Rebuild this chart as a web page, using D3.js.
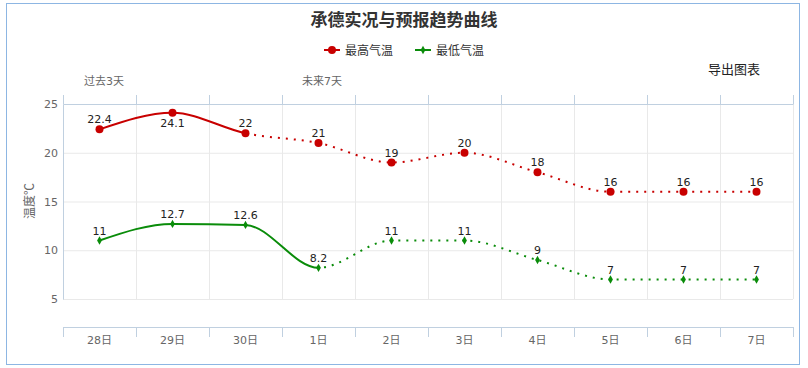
<!DOCTYPE html>
<html>
<head>
<meta charset="utf-8">
<script src="https://cdn.jsdelivr.net/npm/d3@7"></script>
<style>
  body { margin: 0; background: #fff; }
  svg text { font-family: "DejaVu Sans", "Noto Sans CJK SC", sans-serif; }
  .grid line { stroke: #e9e9e9; }
  .grid path { display: none; }
</style>
</head>
<body>
<div id="chart"></div>
<script>
var days = ["28日", "29日", "30日", "1日", "2日", "3日", "4日", "5日", "6日", "7日"];
var highTemps = [22.4, 24.1, 22, 21, 19, 20, 18, 16, 16, 16];
var lowTemps = [11, 12.7, 12.6, 8.2, 11, 11, 9, 7, 7, 7];
var yTicks = [5, 10, 15, 20, 25];
// index where the forecast (dotted) part starts
var highSplit = 2;
var lowSplit = 3;

var w = 808, h = 368;
var margin = { top: 104, left: 63, right: 15, bottom: 69 };
var width = 793 - margin.left;
var height = 299 - margin.top;

var svg = d3.select("#chart").append("svg")
    .attr("width", w)
    .attr("height", h);

// outer frame
svg.append("rect")
    .attr("x", 6.5).attr("y", 3.5)
    .attr("width", 793).attr("height", 361)
    .attr("fill", "none")
    .attr("stroke", "#8db6e3");

var x = d3.scaleBand().domain(days).range([0, width]);
var xb = d3.scaleLinear().domain([0, days.length]).range([0, width]);
var y = d3.scaleLinear().domain([5, 25]).range([height, 0]);

var chart = svg.append("g")
    .attr("transform", "translate(" + margin.left + "," + margin.top + ")");

// horizontal grid
chart.append("g")
    .classed("grid", true)
    .call(d3.axisLeft(y).tickValues(yTicks).tickSize(-width).tickFormat(""));

// vertical grid
chart.append("g")
    .classed("grid", true)
    .attr("transform", "translate(0," + height + ")")
    .call(d3.axisBottom(xb).tickValues(d3.range(days.length + 1)).tickSize(-height).tickFormat(""));

// y labels
var yAxis = chart.append("g")
    .call(d3.axisLeft(y).tickValues(yTicks).tickSize(0).tickPadding(5));
yAxis.select(".domain").attr("stroke", "#c0d0e0");
yAxis.selectAll("text").attr("fill", "#666").style("font-size", "11px");

// top axis
var topAxis = chart.append("g")
    .call(d3.axisTop(xb).tickValues(d3.range(days.length + 1)).tickSize(9).tickSizeOuter(0).tickFormat(""));
topAxis.selectAll("path, line").attr("stroke", "#c0d0e0");

// bottom axis, offset below the plot
var bottomG = chart.append("g")
    .attr("transform", "translate(0," + (height + 28) + ")");
var bAxis = bottomG.append("g")
    .call(d3.axisBottom(xb).tickValues(d3.range(days.length + 1)).tickSize(10).tickSizeOuter(0).tickFormat(""));
bAxis.selectAll("path, line").attr("stroke", "#c0d0e0");
var bLabels = bottomG.append("g")
    .call(d3.axisBottom(x).tickSize(0).tickPadding(9));
bLabels.select(".domain").remove();
bLabels.selectAll("text").attr("fill", "#666").style("font-size", "11px");

// axis title
svg.append("text")
    .attr("transform", "translate(34,201) rotate(-90)")
    .attr("text-anchor", "middle")
    .attr("fill", "#666")
    .style("font-size", "12px")
    .style("font-family", "'Noto Sans CJK SC', sans-serif")
    .text("温度℃");

// section labels
svg.append("text").attr("x", 84).attr("y", 85)
    .attr("fill", "#666").style("font-size", "11px").text("过去3天");
svg.append("text").attr("x", 302).attr("y", 85)
    .attr("fill", "#666").style("font-size", "11px").text("未来7天");

// title
svg.append("text")
    .attr("x", 404).attr("y", 26)
    .attr("text-anchor", "middle")
    .attr("fill", "#333")
    .style("font-size", "17px")
    .style("font-weight", "bold")
    .style("font-family", "'Noto Sans CJK SC', sans-serif")
    .text("承德实况与预报趋势曲线");

svg.append("text")
    .attr("x", 708).attr("y", 74)
    .attr("fill", "#222")
    .style("font-size", "13px")
    .style("font-family", "'Noto Sans CJK SC', sans-serif")
    .text("导出图表");

var line = d3.line()
    .x(function(d, i){ return x(days[i]) + x.bandwidth() / 2; })
    .y(function(d){ return y(d); })
    .curve(d3.curveMonotoneX);

var series = [
    { name: "最高气温", data: highTemps, split: highSplit, color: "#c80000", symbol: d3.symbolCircle, size: 50 },
    { name: "最低气温", data: lowTemps, split: lowSplit, color: "#0a8c0a", symbol: d3.symbolDiamond, size: 20 }
];

var defs = svg.append("defs");

series.forEach(function(s, k){
    var splitX = x(days[s.split]) + x.bandwidth() / 2;
    defs.append("clipPath").attr("id", "solid" + k)
        .append("rect").attr("x", -10).attr("y", -50)
        .attr("width", splitX + 10).attr("height", height + 100);
    defs.append("clipPath").attr("id", "dot" + k)
        .append("rect").attr("x", splitX).attr("y", -50)
        .attr("width", width - splitX + 10).attr("height", height + 100);

    chart.append("path")
        .datum(s.data)
        .attr("clip-path", "url(#solid" + k + ")")
        .attr("fill", "none")
        .attr("stroke", s.color)
        .attr("stroke-width", 2)
        .attr("d", line);
    chart.append("path")
        .datum(s.data)
        .attr("clip-path", "url(#dot" + k + ")")
        .attr("fill", "none")
        .attr("stroke", s.color)
        .attr("stroke-width", 2)
        .attr("stroke-dasharray", "2,6")
        .attr("d", line);

    chart.selectAll(".pt" + k)
        .data(s.data)
        .enter()
        .append("path")
        .classed("pt" + k, true)
        .attr("d", d3.symbol().type(s.symbol).size(s.size))
        .attr("fill", s.color)
        .attr("transform", function(d, i){
            return "translate(" + (x(days[i]) + x.bandwidth() / 2) + "," + y(d) + ")";
        });

    // labels that would leave the plot top get pushed below the point
    chart.selectAll(".lbl" + k)
        .data(s.data)
        .enter()
        .append("text")
        .attr("x", function(d, i){ return x(days[i]) + x.bandwidth() / 2; })
        .attr("y", function(d){
            return y(d) - 14 < 0 ? y(d) + 14 : y(d) - 6;
        })
        .attr("text-anchor", "middle")
        .attr("fill", "#222")
        .style("font-size", "11px")
        .text(function(d){ return d; });
});

// legend
var legend = svg.append("g");
var legendX = [324, 415];
series.forEach(function(s, k){
    var g = legend.append("g").attr("transform", "translate(" + legendX[k] + ",50)");
    g.append("line").attr("x1", 0).attr("x2", 16)
        .attr("stroke", s.color).attr("stroke-width", 2);
    g.append("path")
        .attr("d", d3.symbol().type(s.symbol).size(s.size))
        .attr("transform", "translate(8,0)")
        .attr("fill", s.color);
    g.append("text")
        .attr("x", 21).attr("y", 4.5)
        .attr("fill", "#333")
        .style("font-size", "12px")
        .style("font-family", "'Noto Sans CJK SC', sans-serif")
        .text(s.name);
});
</script>
</body>
</html>
